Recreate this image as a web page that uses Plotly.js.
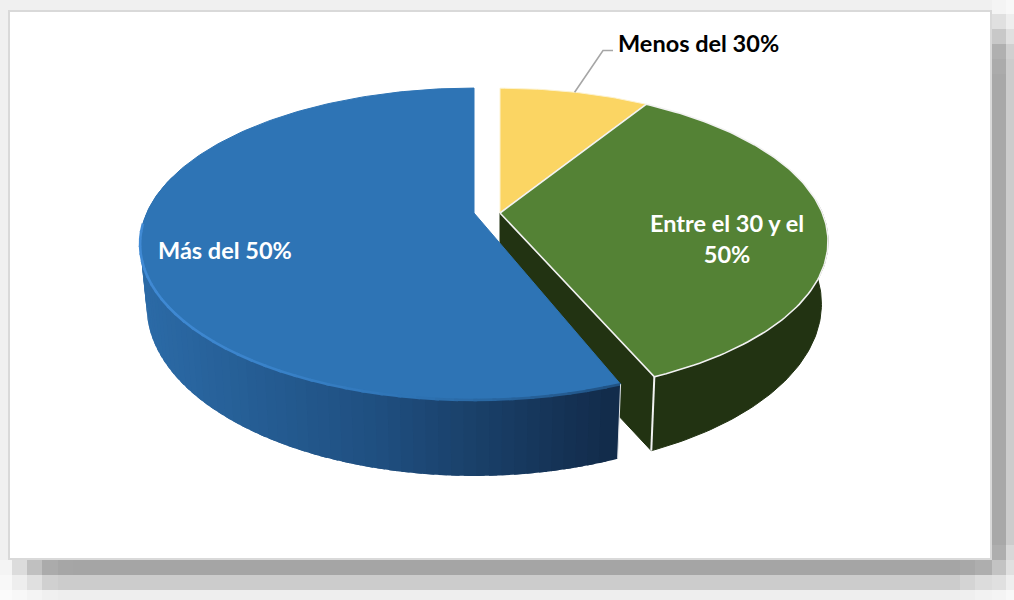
<!DOCTYPE html>
<html><head><meta charset="utf-8">
<script src="https://cdn.plot.ly/plotly-3.0.1.min.js"></script>
<style>html,body{margin:0;padding:0;background:#fff}#c{width:1014px;height:600px}</style>
</head><body><div id="c"></div>
<script>
// ---- data ----
const categories = ["Menos del 30%", "Entre el 30 y el<br>50%", "Más del 50%"];
const values = [8.8, 34.7, 56.5];
const topColors = ["#fbd563", "#548235", "#2e74b5"];
const wallColors = ["#7f6a22", "#223312", "#1f4e79"];
const labelColors = ["#000000", "#ffffff", "#ffffff"];

// ---- 3D pie projection settings (per slice: yellow, green, blue) ----
const apexY = 213, apexX = [500, 500, 474];
const radiusX = [322.3, 322.3, 327.3], radiusY = [148, 148, 149.8], persp = [0.186, 0.186, 0.199];
const LOW_DY = 60, LOW_SY = 1.085, LOW_SX = 0.98, AXIS_DEPTH = 76, EXPLODE_GAP = 2;

function proj(i, deg, lower) {
  const t = deg * Math.PI / 180, u = Math.sin(t), v = Math.cos(t), d = 1 + persp[i] * v;
  const dx = radiusX[i] * u / d, dy = -radiusY[i] * v / d;
  return lower ? [apexX[i] + LOW_SX * dx, apexY + LOW_DY + LOW_SY * dy] : [apexX[i] + dx, apexY + dy];
}
const total = values.reduce((a, b) => a + b, 0);
let acc = 0;
const slices = values.map((v, i) => {
  const a0 = acc / total * 360; acc += v;
  return { a0, a1: acc / total * 360, i };
});
function arc(i, a0, a1, lower) {
  const n = Math.max(4, Math.ceil(Math.abs(a1 - a0))), pts = [];
  for (let j = 0; j <= n; j++) pts.push(proj(i, a0 + (a1 - a0) * j / n, lower));
  return pts;
}
function poly(pts, fill, line, width) {
  return { type: "scatter", mode: "lines", x: pts.map(p => p[0]), y: pts.map(p => p[1]),
    fill: "toself", fillcolor: fill, line: { color: line || fill, width: width === undefined ? 1 : width },
    hoverinfo: "skip", showlegend: false };
}
function path(pts, color, width) {
  return { type: "scatter", mode: "lines", x: pts.map(p => p[0]), y: pts.map(p => p[1]),
    line: { color, width }, hoverinfo: "skip", showlegend: false };
}
function mix(c1, c2, t) {
  const f = (a, b) => Math.round(a + (b - a) * t);
  return `rgb(${f(c1[0], c2[0])},${f(c1[1], c2[1])},${f(c1[2], c2[2])})`;
}
const traces = [];
const [yel, grn, blu] = slices;
blu.a0 += EXPLODE_GAP;

// green: cut face, outer wall, top
const gApexTop = [apexX[1], apexY], gApexLow = [apexX[1], apexY + AXIS_DEPTH];
const gEndTop = proj(1, grn.a1, false), gEndLow = proj(1, grn.a1, true);
traces.push(poly([gApexTop, gEndTop, gEndLow, gApexLow, gApexTop], wallColors[1]));
traces.push(poly(arc(1, 85, grn.a1, false).concat(arc(1, grn.a1, 85, true)), wallColors[1]));
// yellow and green tops
traces.push(poly([gApexTop].concat(arc(0, yel.a0, yel.a1, false), [gApexTop]), topColors[0], "#fdf3d0", 1));
traces.push(poly([gApexTop].concat(arc(1, grn.a0, grn.a1, false), [gApexTop]), topColors[1], "#f2f2f2", 1.6));
traces.push(path([gEndTop, gEndLow], "#f2f2f2", 2));

// blue: wall in narrow overlapping strips, shaded from left to right
const wallStart = 285, wallEnd = blu.a0;
const xMin = proj(2, 270, false)[0], xMax = proj(2, blu.a0, false)[0];
const shadeL = [43, 106, 166], shadeM = [31, 79, 128], shadeR = [18, 43, 74];
const STRIPS = 70;
for (let j = 0; j < STRIPS; j++) {
  const a = wallStart + (wallEnd - wallStart) * j / STRIPS;
  const b = wallStart + (wallEnd - wallStart) * (j + 1) / STRIPS;
  const xm = proj(2, (a + b) / 2, false)[0];
  const t = Math.min(1, Math.max(0, (xm - xMin) / (xMax - xMin)));
  const col = t < 0.5 ? mix(shadeL, shadeM, t / 0.5) : mix(shadeM, shadeR, (t - 0.5) / 0.5);
  const over = j ? Math.min(wallStart, a + 1.2) : a;
  const s = poly(arc(2, b, over, false).concat(arc(2, over, b, true)), col, col, 0);
  s.mode = "none";
  traces.push(s);
}
// blue top and rim: highlight on the left, fading to a soft dark edge on the right
const bApex = [apexX[2], apexY];
traces.push(poly([bApex].concat(arc(2, blu.a0, blu.a1, false), [bApex]), topColors[2]));
const rimFrom = 266, rimTo = blu.a0, RIM = 40;
const rimLight = [64, 138, 212], rimMid = [46, 116, 181], rimDark = [32, 80, 128];
for (let j = 0; j < RIM; j++) {
  const t = j / RIM;
  const a = rimFrom + (rimTo - rimFrom) * t, b = rimFrom + (rimTo - rimFrom) * (j + 1.2) / RIM;
  const col = t < 0.7 ? mix(rimLight, rimMid, Math.pow(t / 0.7, 3)) : mix(rimMid, rimDark, (t - 0.7) / 0.3);
  traces.push(path(arc(2, a, Math.max(b, rimTo), false), col, 2.6));
}
traces.push(path([proj(2, blu.a0, false), proj(2, blu.a0, true)], "#dfe3e8", 1));

// leader line from the yellow slice to its label
const leadStart = proj(0, (yel.a0 + yel.a1) / 2, false);
traces.push(path([leadStart, [603, 50.5], [613, 50.5]], "#a6a6a6", 1.6));

// frame and stepped drop shadow
const shapes = [];
function block(x0, y0, x1, y1, color) {
  shapes.push({ type: "rect", xref: "x", yref: "y", x0, y0, x1, y1, layer: "below",
    fillcolor: color, line: { width: 0 } });
}
const colStops = [0, 14, 29, 44, 59, 74, 545, 560, 575, 590, 600];
const col1 = ["#f4f4f4", "#e0e0e0", "#c8c8c8", "#b0b0b0", "#ababab", "#a8a8a8", "#aeaeae", "#c3c3c3", "#e0e0e0", "#f4f4f4"];
const col2 = ["#f8f8f8", "#eeeeee", "#e0e0e0", "#d0d0d0", "#cccccc", "#cccccc", "#d8d8d8", "#e0e0e0", "#eeeeee", "#f8f8f8"];
const rowStops = [0, 12, 27, 42, 58, 73, 960, 975, 992, 1006, 1014];
const row1 = ["#f4f4f4", "#dcdcdc", "#c0c0c0", "#ababab", "#a6a6a6", "#a5a5a5", "#a8a8a8", "#aeaeae", "#c3c3c3", "#e0e0e0"];
const row2 = ["#f8f8f8", "#eeeeee", "#e0e0e0", "#d0d0d0", "#cccccc", "#cccccc", "#d4d4d4", "#dcdcdc", "#eeeeee", "#f4f4f4"];
const row3 = ["#fbfbfb", "#f8f8f8", "#f4f4f4", "#f0f0f0", "#eeeeee", "#eeeeee", "#efefef", "#f2f2f2", "#f4f4f4", "#f9f9f9"];
block(0, 0, 1014, 600, "#f0f0f0");
for (let i = 0; i < 10; i++) {
  block(rowStops[i], 560, rowStops[i + 1], 575, row1[i]);
  block(rowStops[i], 575, rowStops[i + 1], 590, row2[i]);
  block(rowStops[i], 590, rowStops[i + 1], 600, row3[i]);
}
for (let i = 0; i < 10; i++) {
  block(992, colStops[i], 1006, colStops[i + 1], col1[i]);
  block(1006, colStops[i], 1014, colStops[i + 1], col2[i]);
}
block(8, 10, 992, 560, "#d9d9d9");
block(10, 12, 990, 558, "#ffffff");

const labelPos = [[698, 43], [727, 238], [225, 250]];
const annotations = categories.map((c, i) => ({
  text: "<b>" + c + "</b>", x: labelPos[i][0], y: labelPos[i][1], xref: "x", yref: "y",
  showarrow: false, align: "center", xanchor: "center", yanchor: "middle",
  font: { family: "Lato, 'Open Sans', sans-serif", size: 23.5, color: labelColors[i] }
}));

Plotly.newPlot("c", traces, {
  width: 1014, height: 600, margin: { l: 0, r: 0, t: 0, b: 0, pad: 0 },
  paper_bgcolor: "#ffffff", plot_bgcolor: "rgba(0,0,0,0)", showlegend: false,
  xaxis: { range: [0, 1014], visible: false, fixedrange: true },
  yaxis: { range: [600, 0], visible: false, fixedrange: true },
  shapes, annotations
}, { displayModeBar: false, staticPlot: true });
</script></body></html>
